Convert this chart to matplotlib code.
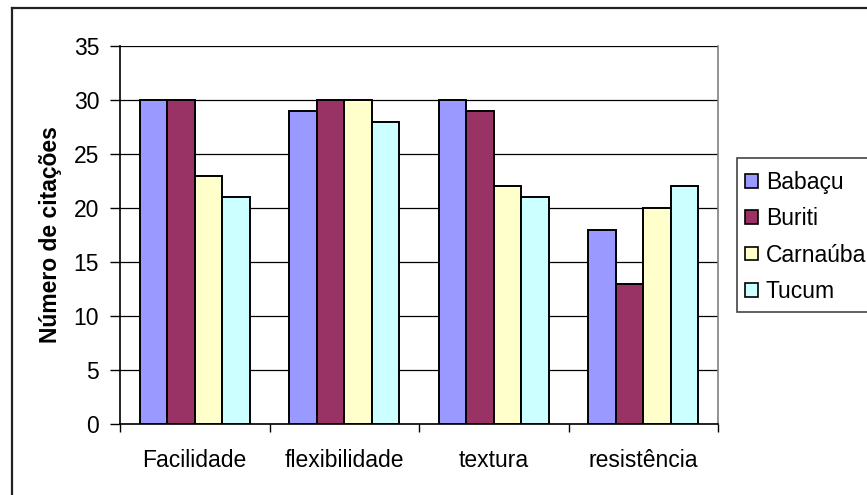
import numpy as np
import matplotlib
matplotlib.use("Agg")
from matplotlib import pyplot as plt
from matplotlib.lines import Line2D
from matplotlib.patches import Rectangle

categories = ['Facilidade', 'flexibilidade', 'textura', 'resistência']
babacu = [30, 29, 30, 18]
buriti = [30, 30, 29, 13]
carnauba = [23, 30, 22, 20]
tucum = [21, 28, 21, 22]
series_names = ['Babaçu', 'Buriti', 'Carnaúba', 'Tucum']
colors = ['#9999FF', '#993366', '#FFFFCC', '#CCFFFF']

plt.rcParams['font.family'] = ['Liberation Sans', 'DejaVu Sans']
fs = 16.5

fig = plt.figure(figsize=(8.67, 4.95), dpi=100)
ax = fig.add_axes([120/867, 1 - 424/495, 598/867, 378/495])

# outer chart border (only top and left edges fall inside the image)
fig.add_artist(Line2D([12/867, 12/867], [0, 1 - 8/495], color='#222222', lw=1.6))
fig.add_artist(Line2D([12/867, 1], [1 - 8/495, 1 - 8/495], color='#222222', lw=1.6))

x = np.arange(len(categories))
width = 0.1833
series = [babacu, buriti, carnauba, tucum]
for i, (vals, name, c) in enumerate(zip(series, series_names, colors)):
    offs = (i - 1.5) * width
    ax.bar(x + offs, vals, width, color=c, edgecolor='black', linewidth=1.4,
           label=name, zorder=3)

ax.set_xlim(-0.5, len(categories) - 0.5)
ax.set_ylim(0, 35)
ax.set_yticks(range(0, 36, 5))
ax.yaxis.grid(True, color='black', linewidth=0.9, zorder=0)
ax.set_axisbelow(True)

# category ticks sit on the boundaries, labels in the middle
ax.set_xticks(np.arange(-0.5, len(categories), 1.0))
ax.set_xticklabels([])
ax.set_xticks(x, minor=True)
ax.set_xticklabels(categories, minor=True, fontsize=fs)
ax.tick_params(axis='x', which='major', direction='out', length=6, width=1, color='black')
ax.tick_params(axis='x', which='minor', length=0, pad=18)
ax.tick_params(axis='y', direction='out', length=7, width=1, labelsize=fs, pad=8)

for s in ['left', 'bottom']:
    ax.spines[s].set_color('black')
    ax.spines[s].set_linewidth(1.2)
ax.spines['top'].set_visible(False)
ax.spines['right'].set_color('#808080')
ax.spines['right'].set_linewidth(1.2)

ax.set_ylabel('Número de citações', fontsize=fs, fontweight='bold')
ax.yaxis.set_label_coords(-0.097, 0.5)

# legend frame runs past the right edge
fig.add_artist(Rectangle((737/867, 1 - 312/495), 0.3, 154/495, transform=fig.transFigure,
                         facecolor='white', edgecolor='#444444', linewidth=1.2, zorder=1))
leg = fig.legend(loc='upper left', bbox_to_anchor=(745/867, 1 - 171/495),
                 frameon=False, fontsize=fs, handlelength=0.55, handleheight=0.55,
                 handletextpad=0.35, labelspacing=0.58, borderaxespad=0, borderpad=0)
for h in leg.legend_handles:
    h.set_linewidth(1.2)

fig.savefig('out.png', dpi=100, facecolor='white')
